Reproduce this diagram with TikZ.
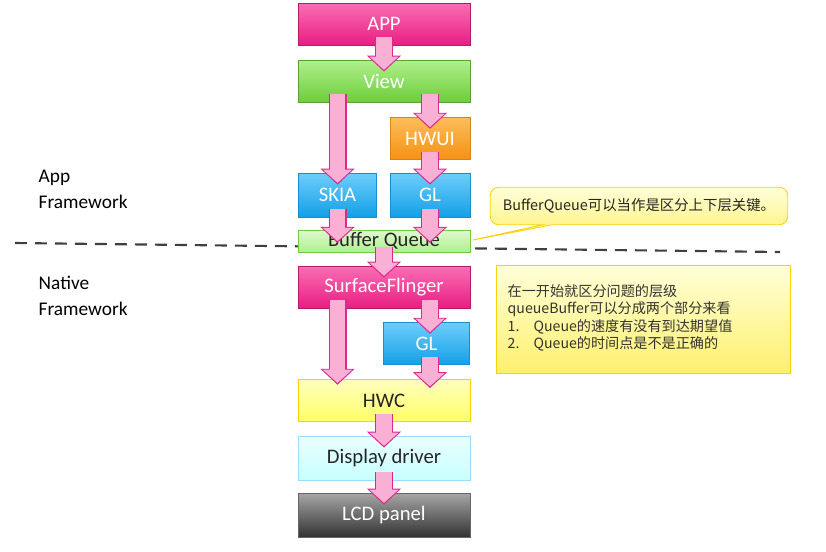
\documentclass[tikz,border=0pt]{standalone}
\usepackage{fontspec}
\setmainfont{Carlito}
\newfontfamily\cjk{Noto Sans CJK SC}
\usetikzlibrary{arrows.meta}
\usetikzlibrary{shapes.callouts}
\definecolor{pinkb}{RGB}{232, 30, 130}
\definecolor{pinkt}{RGB}{250, 110, 180}
\definecolor{greenb}{RGB}{110, 205, 60}
\definecolor{greent}{RGB}{175, 240, 140}
\definecolor{orangeb}{RGB}{245, 145, 20}
\definecolor{oranget}{RGB}{252, 190, 90}
\definecolor{blueb}{RGB}{20, 160, 232}
\definecolor{bluet}{RGB}{110, 205, 250}
\definecolor{arrowfill}{RGB}{250, 175, 212}
\definecolor{arrowline}{RGB}{220, 40, 140}
\definecolor{notey}{RGB}{255, 240, 110}
\tikzset{
  blk/.style={rectangle, draw, line width=0.6pt, text=white, font=\fontsize{15.5}{17}\selectfont, inner sep=0pt},
  barrow/.style={line width=13.5pt, draw=arrowline, -{Triangle[width=25pt, length=12pt]},
    postaction={draw=arrowfill, line width=11.5pt, shorten >=1.3pt, -{Triangle[width=21.5pt, length=10pt]}}},
}
\begin{document}
\begin{tikzpicture}[x=0.75pt, y=-0.75pt]
\useasboundingbox (0,0) rectangle (826,551);
% layer separator
\draw [line width=1.6pt, color=black!75, dash pattern=on 9pt off 6pt] (15,243) -- (780,252);
\node (lblapp) [anchor=north west, align=left, font=\fontsize{14.5}{19.5}\selectfont] at (34,165) {App\\Framework};
\node (lblnat) [anchor=north west, align=left, font=\fontsize{14.5}{19.5}\selectfont] at (34,271) {Native\\Framework};
% boxes
\node (app) [blk, draw=pinkb!80!black, top color=pinkt, bottom color=pinkb, minimum width=129pt, minimum height=31.5pt] at (384,24) {APP};
\node (view) [blk, draw=greenb!80!black, top color=greent, bottom color=greenb, minimum width=129pt, minimum height=31.5pt] at (384,81) {View};
\node (hwui) [blk, draw=orangeb!90!black, top color=oranget, bottom color=orangeb, minimum width=60pt, minimum height=32pt] at (430,138.5) {HWUI};
\node (skia) [blk, draw=blueb!90!black, top color=bluet, bottom color=blueb, minimum width=59pt, minimum height=33pt] at (337.5,195) {SKIA};
\node (gla) [blk, draw=blueb!90!black, top color=bluet, bottom color=blueb, minimum width=60pt, minimum height=33pt] at (430,195) {GL};
\node (bq) [blk, draw=greenb, top color=greent!40, bottom color=greent, text=black!85, minimum width=129pt, minimum height=16.5pt] at (384,241) {Buffer Queue};
\node (sf) [blk, draw=pinkb!80!black, top color=pinkt, bottom color=pinkb, minimum width=129pt, minimum height=31.5pt] at (384,287) {SurfaceFlinger};
\node (glb) [blk, draw=blueb!90!black, top color=bluet, bottom color=blueb, minimum width=65pt, minimum height=32pt] at (426.5,343.5) {GL};
\node (hwc) [blk, draw=yellow!70!orange, top color=yellow!25, bottom color=yellow!60, text=black!85, minimum width=129pt, minimum height=32pt] at (384,400.5) {HWC};
\node (disp) [blk, draw=cyan!40, top color=cyan!8, bottom color=cyan!22, text=black!85, minimum width=129pt, minimum height=33pt] at (384,458) {Display driver};
\node (lcd) [blk, draw=black!60, top color=black!35, bottom color=black!80, minimum width=129pt, minimum height=33pt] at (384,515) {LCD panel};
% flow arrows
\draw [barrow] ([yshift=6pt]app.south) -- ([yshift=-9pt]view.north);
\draw [barrow] ([yshift=6pt]view.south -| skia) -- ([yshift=-9pt]skia.north);
\draw [barrow] ([yshift=6pt]view.south -| hwui) -- ([yshift=-9pt]hwui.north);
\draw [barrow] ([yshift=6pt]hwui.south) -- ([yshift=-9pt]gla.north);
\draw [barrow] ([yshift=6pt]skia.south) -- ([yshift=-10pt]bq.north -| skia);
\draw [barrow] ([yshift=6pt]gla.south) -- ([yshift=-10pt]bq.north -| gla);
\draw [barrow] ([yshift=4pt]bq.south) -- ([yshift=-9pt]sf.north);
\draw [barrow] ([yshift=6pt]sf.south -| hwui) -- ([yshift=-9pt]glb.north -| hwui);
\draw [barrow] ([yshift=6pt]sf.south -| skia) -- ([yshift=-4.5pt]hwc.north -| skia);
\draw [barrow] ([yshift=6pt]glb.south -| hwui) -- ([yshift=-7pt]hwc.north -| hwui);
\draw [barrow] ([yshift=6pt]hwc.south) -- ([yshift=-9pt]disp.north);
\draw [barrow] ([yshift=6pt]disp.south) -- ([yshift=-9pt]lcd.north);
% notes
\node (callout) [rectangle callout, rounded corners=6pt, draw=yellow!70!orange, line width=0.6pt, top color=yellow!15, bottom color=notey, callout absolute pointer={(468,241)}, minimum width=223pt, minimum height=28pt, font=\cjk\fontsize{10.8}{13}\selectfont, text=black!85] at (639,206) {BufferQueue可以当作是区分上下层关键。};
\node (note) [rectangle, draw=yellow!70!orange, line width=0.6pt, top color=yellow!15, bottom color=notey, minimum width=220pt, minimum height=81pt] at (643.5,319) {};
\node (notetxt) [anchor=north west, align=left, text=black!80, font=\cjk\fontsize{10.6}{13}\selectfont] at (503,280) {在一开始就区分问题的层级\\queueBuffer可以分成两个部分来看\\1.\quad Queue的速度有没有到达期望值\\2.\quad Queue的时间点是不是正确的};
\end{tikzpicture}
\end{document}
